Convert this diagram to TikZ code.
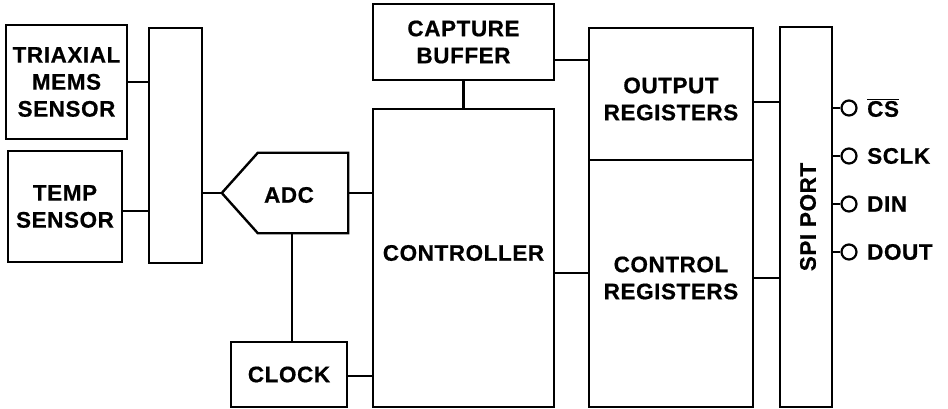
\documentclass[tikz,border=0pt]{standalone}
\usepackage{fontspec}
\newfontfamily\labfont{Liberation Sans}[LetterSpace=2.5,FakeBold=0.6]
\begin{document}
\begin{tikzpicture}[x=1pt,y=-1pt,line width=2.4pt,
  every node/.style={font=\labfont\bfseries\fontsize{22.5}{27}\selectfont, align=center, inner sep=0pt},
  blk/.style={draw, rectangle, line join=miter},
  pin/.style={draw, circle, line width=2.2pt, minimum size=15pt},
  pinlabel/.style={anchor=west}]
\useasboundingbox (0,0) rectangle (948,409);
% blocks
\node[blk, minimum width=121pt, minimum height=114pt] (tri) at (66.5,82) {TRIAXIAL\\MEMS\\SENSOR};
\node[blk, minimum width=114pt, minimum height=111pt] (temp) at (65,206.5) {TEMP\\SENSOR};
\node[blk, minimum width=53pt, minimum height=235pt] (mux) at (175.5,145.5) {};
\node[minimum width=124pt, minimum height=78pt] (adc) at (285,193) {};
\draw[line join=miter] (adc.west) -- ([xshift=36pt]adc.north west) -- (adc.north east) -- (adc.south east) -- ([xshift=36pt]adc.south west) -- cycle;
\node at (289,195) {ADC};
\node[blk, minimum width=116pt, minimum height=65pt] (clock) at (289,374.5) {CLOCK};
\node[blk, minimum width=181pt, minimum height=76pt] (cap) at (463.5,42) {CAPTURE\\BUFFER};
\node[blk, minimum width=181pt, minimum height=298pt] (ctrl) at (463.5,258) {};
\node at (463.5,253) {CONTROLLER};
\node[blk, minimum width=164pt, minimum height=132pt] (outreg) at (671,94) {};
\node at (671,99) {OUTPUT\\REGISTERS};
\node[blk, minimum width=164pt, minimum height=247pt] (ctlreg) at (671,283.5) {};
\node at (671,278) {CONTROL\\REGISTERS};
\node[blk, minimum width=52pt, minimum height=380pt] (spi) at (806,217) {};
\node[rotate=90] at (808,217) {SPI PORT};
% connectors
\draw (tri.east) -- (tri.east -| mux.west);
\draw ([yshift=-4.5pt]temp.east) -- ([yshift=-4.5pt]temp.east -| mux.west);
\draw (mux.east |- adc.west) -- (adc.west);
\draw (adc.east) -- (adc.east -| ctrl.west);
\draw ([xshift=3pt]clock.north) -- ([xshift=3pt]clock.north |- adc.south);
\draw ([yshift=-1.5pt]clock.east) -- ([yshift=-1.5pt]clock.east -| ctrl.west);
\draw (cap.south) -- (ctrl.north);
\draw ([yshift=-18pt]cap.east) -- ([yshift=-18pt]cap.east -| outreg.west);
\draw ([yshift=-15pt]ctrl.east) -- ([yshift=-15pt]ctrl.east -| ctlreg.west);
\draw ([yshift=-8pt]outreg.east) -- ([yshift=-8pt]outreg.east -| spi.west);
\draw ([yshift=5.5pt]ctlreg.east) -- ([yshift=5.5pt]ctlreg.east -| spi.west);
% pins
\foreach \n/\y/\t in {cs/108/{$\overline{\mbox{CS}}$}, sclk/156/SCLK, din/204/DIN, dout/252/DOUT}{
  \node[pin] (p\n) at (849,\y) {};
  \draw (spi.east |- p\n.west) -- (p\n.west);
  \node[pinlabel] (l\n) at (866,\y) {\t};
}
\end{tikzpicture}
\end{document}
